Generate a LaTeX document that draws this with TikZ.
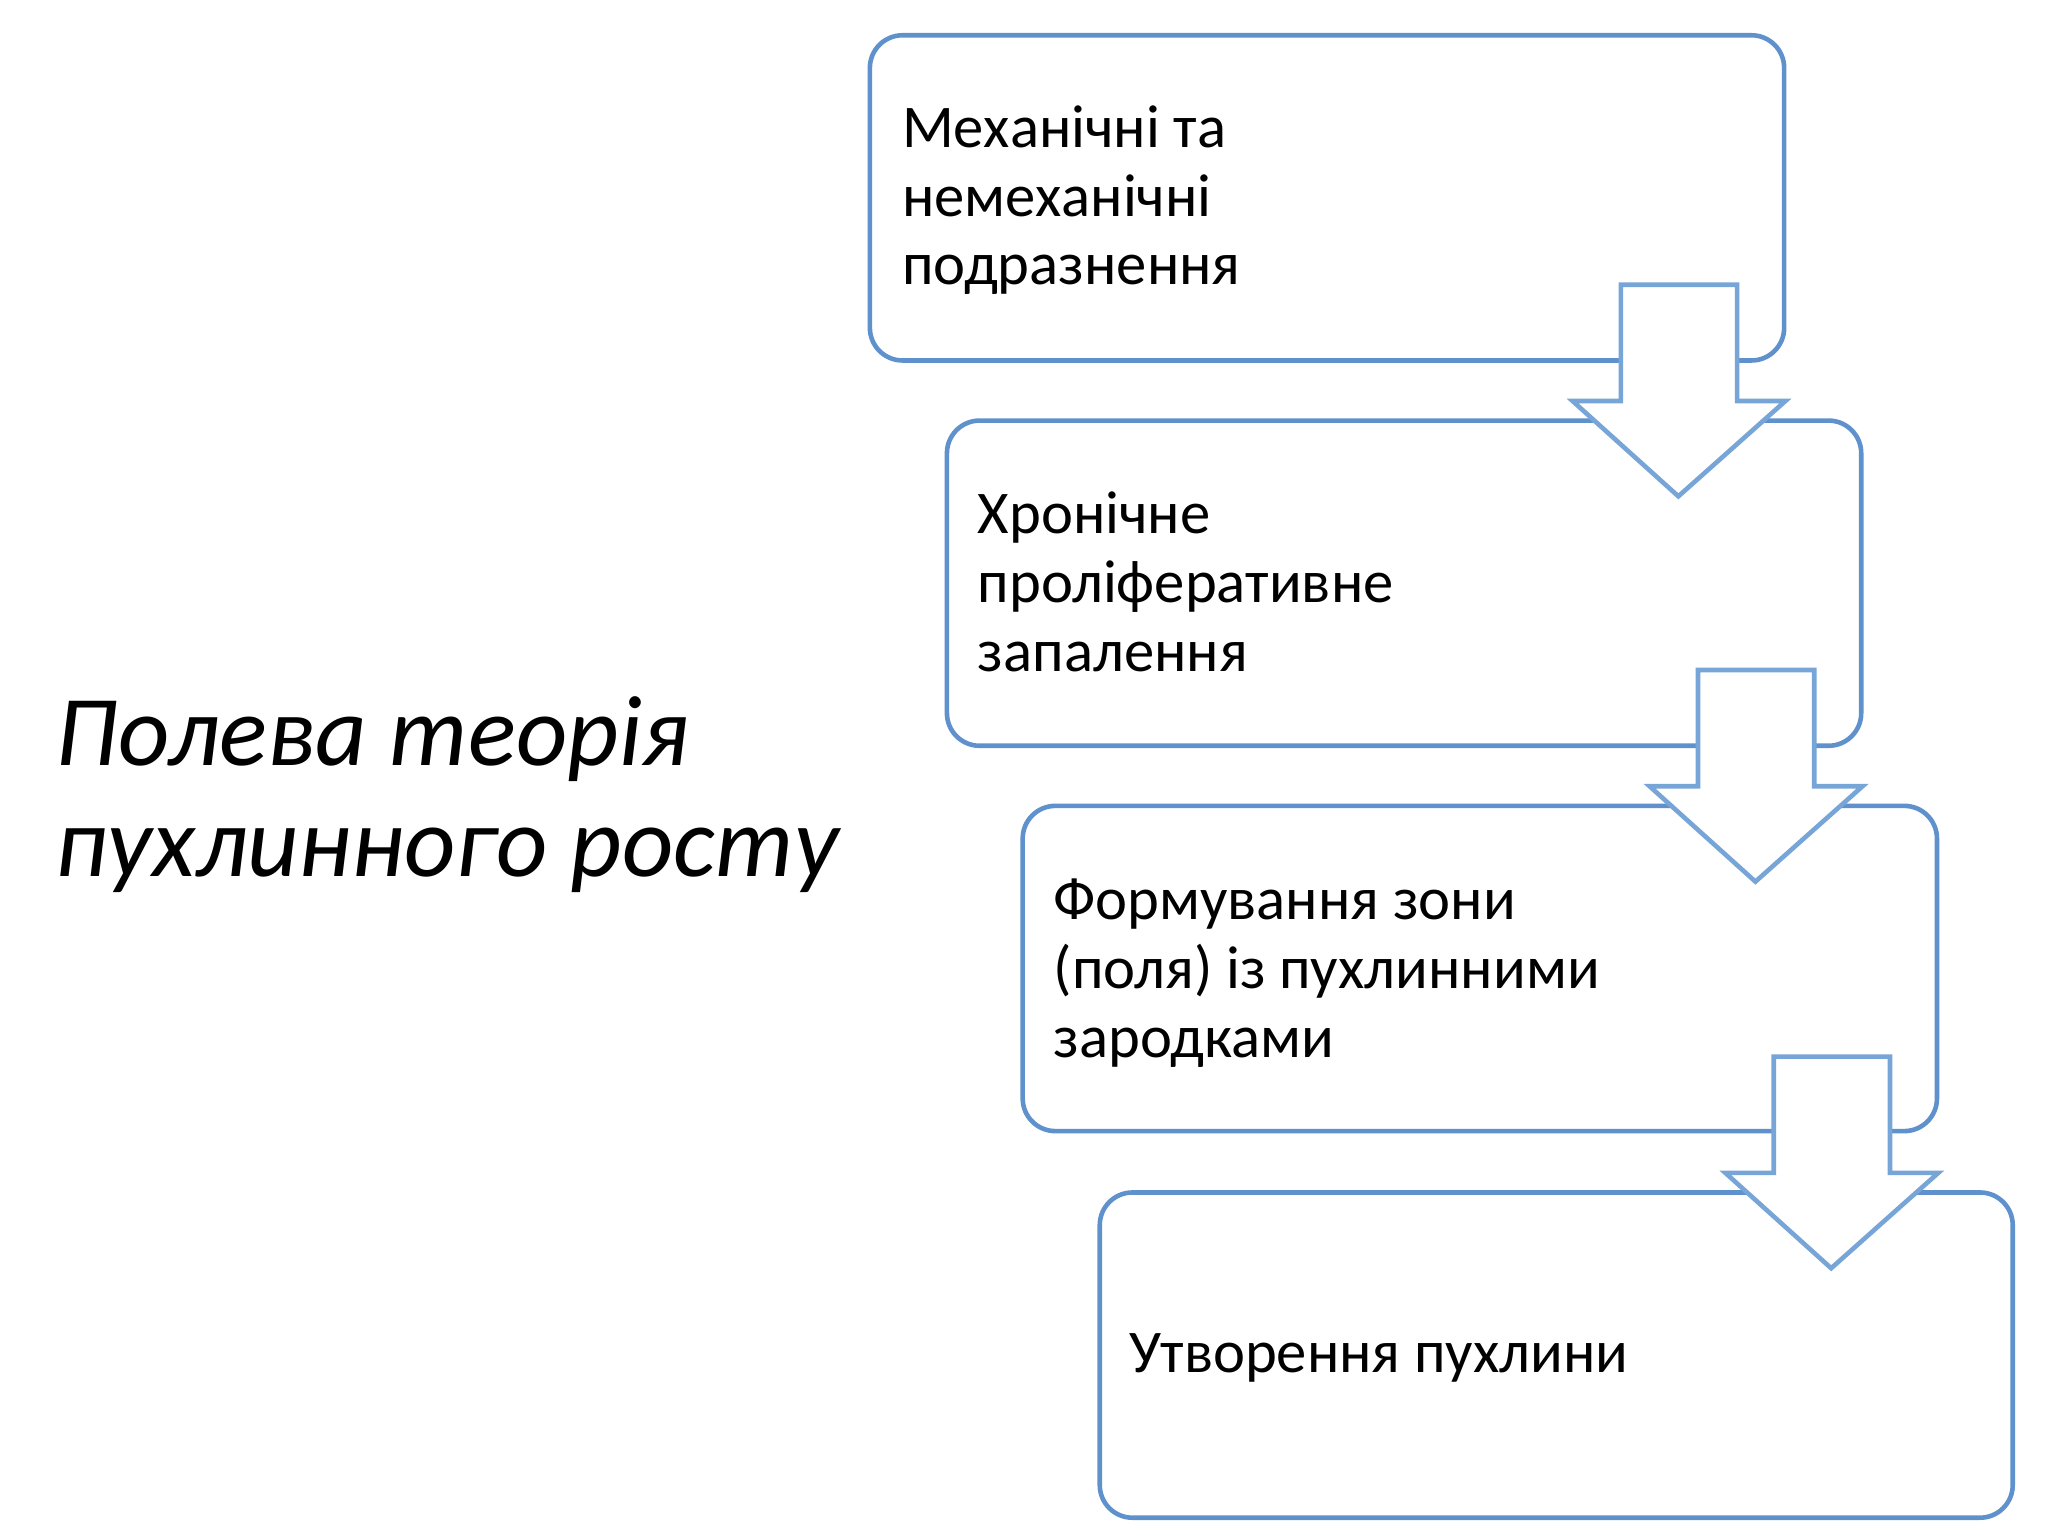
\documentclass[tikz,border=0pt]{standalone}
\usepackage{fontspec}
\setmainfont{Carlito}
\definecolor{bl}{RGB}{95,145,205}
\definecolor{ar}{RGB}{120,165,215}
\tikzset{box/.style={draw=bl,line width=1pt,rounded corners=0.25cm,fill=white},
 arr/.style={draw=ar,line width=1pt,fill=white},
 lbl/.style={anchor=north west,inner sep=0pt,align=left,font=\fontsize{13.2pt}{15pt}\selectfont}}
\begin{document}
\begin{tikzpicture}[x=0.01cm,y=-0.01cm]
\useasboundingbox[fill=white] (0,0) rectangle (1568,1176);
\draw[box] (666,27) rectangle (1366,276);
\draw[box] (725,322) rectangle (1425,571);
\draw[box] (783,617) rectangle (1483,866);
\draw[box] (842,913) rectangle (1541,1162);
\foreach \dx/\dy in {0/0,59/295,117/591}{
 \begin{scope}[shift={(\dx,\dy)}]
 \draw[arr] (1241,218) -- (1330,218) -- (1330,307) -- (1367,307) -- (1285,380) -- (1204,307) -- (1241,307) -- cycle;
 \end{scope}}
\node[lbl] (t1) at (690,80) {Механічні та\\немеханічні\\подразнення};
\node[lbl] (t2) at (748,376) {Хронічне\\проліферативне\\запалення};
\node[lbl] (t3) at (806,672) {Формування зони\\(поля) із пухлинними\\зародками};
\node[lbl] (t4) at (864,1020) {Утворення пухлини};
\node[anchor=north west,inner sep=0pt,align=left,font=\fontsize{21.8pt}{24pt}\selectfont\itshape] (title) at (42,533) {Полева теорія\\пухлинного росту};
\end{tikzpicture}
\end{document}
